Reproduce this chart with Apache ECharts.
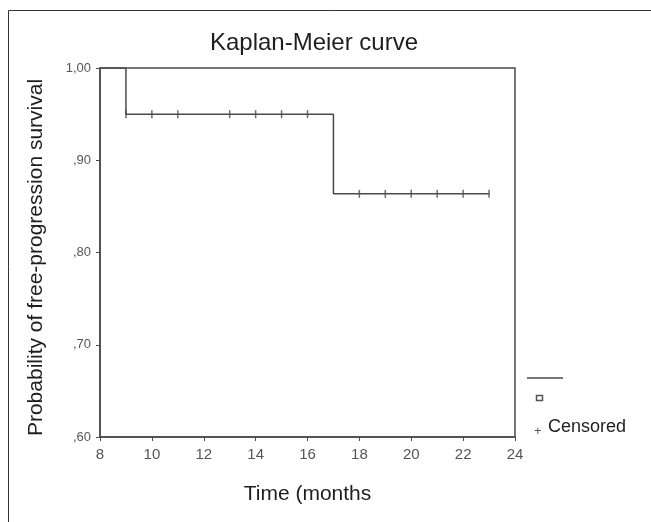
<!DOCTYPE html>
<html><head><meta charset="utf-8">
<script src="https://cdn.jsdelivr.net/npm/echarts@6/dist/echarts.min.js"></script>
<style>html,body{margin:0;padding:0;background:#fff}#c{width:651px;height:522px}</style>
</head><body><div id="c"></div>
<script>
// Step curve (event times and survival)
var stepTimes = [8, 9, 17, 23];
var stepSurvival = [1.0, 0.95, 0.8636, 0.8636];
// Censored observations
var censorTimes = [9, 10, 11, 13, 14, 15, 16, 18, 19, 20, 21, 22, 23];
var censorSurvival = [0.95, 0.95, 0.95, 0.95, 0.95, 0.95, 0.95, 0.8636, 0.8636, 0.8636, 0.8636, 0.8636, 0.8636];
var xTicks = [8, 10, 12, 14, 16, 18, 20, 22, 24];
var yTickLabels = {'1': '1,00', '0.9': ',90', '0.8': ',80', '0.7': ',70', '0.6': ',60'};

var lineData = stepTimes.map(function (t, i) { return [t, stepSurvival[i]]; });
var censorData = censorTimes.map(function (t, i) { return [t, censorSurvival[i]]; });
var lineColor = '#4a4a4a';
var chart = echarts.init(document.getElementById('c'), null, {renderer: 'canvas'});
chart.setOption({
  backgroundColor: '#fff',
  animation: false,
  title: {
    text: 'Kaplan-Meier curve', left: 309, top: 26, textAlign: 'center',
    textStyle: {fontFamily: 'Liberation Sans', fontSize: 24, fontWeight: 'normal', color: '#1e1e1e'}
  },
  grid: {left: 100, right: 136, top: 68, bottom: 85, show: true, borderColor: lineColor, borderWidth: 1.5},
  xAxis: {
    type: 'value', min: 8, max: 24, interval: 2,
    name: 'Time (months', nameLocation: 'middle', nameGap: 47,
    nameTextStyle: {fontFamily: 'Liberation Sans', fontSize: 21, color: '#1e1e1e'},
    axisLine: {lineStyle: {color: lineColor, width: 1.5}},
    axisTick: {show: true, length: 4, lineStyle: {color: lineColor}},
    axisLabel: {fontFamily: 'Liberation Sans', fontSize: 15, color: '#555', margin: 10,
      formatter: function (v) { return xTicks.indexOf(v) >= 0 ? String(v) : ''; }},
    splitLine: {show: false}
  },
  yAxis: {
    type: 'value', min: 0.6, max: 1.0, interval: 0.1,
    name: 'Probability of free-progression survival', nameLocation: 'middle', nameGap: 53,
    nameTextStyle: {fontFamily: 'Liberation Sans', fontSize: 21, color: '#1e1e1e', padding: [0, 10, 0, 0]},
    axisLine: {show: true, lineStyle: {color: lineColor, width: 1.5}},
    axisTick: {show: true, length: 4, lineStyle: {color: lineColor}},
    axisLabel: {fontFamily: 'Liberation Sans', fontSize: 13, color: '#555', margin: 9,
      formatter: function (v) { var k = String(Math.round(v * 10) / 10); return yTickLabels[k] || ''; }},
    splitLine: {show: false}
  },
  series: [
    {type: 'line', step: 'end', data: lineData, symbol: 'none',
     lineStyle: {color: lineColor, width: 1.5}},
    {type: 'scatter', data: censorData, symbol: 'rect', symbolSize: [1.5, 8],
     itemStyle: {color: lineColor}}
  ],
  graphic: [
    {type: 'rect', shape: {x: 8.5, y: 10.5, width: 700, height: 600}, style: {fill: 'none', stroke: '#333', lineWidth: 1}, silent: true},
    {type: 'line', shape: {x1: 527, y1: 378, x2: 563, y2: 378}, style: {stroke: lineColor, lineWidth: 1.5}},
    {type: 'rect', shape: {x: 536.5, y: 395.5, width: 6, height: 5}, style: {fill: 'none', stroke: '#555', lineWidth: 1.5}},
    {type: 'text', left: 534, top: 425, style: {text: '+', fontFamily: 'Liberation Sans', fontSize: 13, fill: '#555'}},
    {type: 'text', left: 548, top: 418, style: {text: 'Censored', fontFamily: 'Liberation Sans', fontSize: 18, fill: '#1e1e1e'}}
  ]
});
</script></body></html>
